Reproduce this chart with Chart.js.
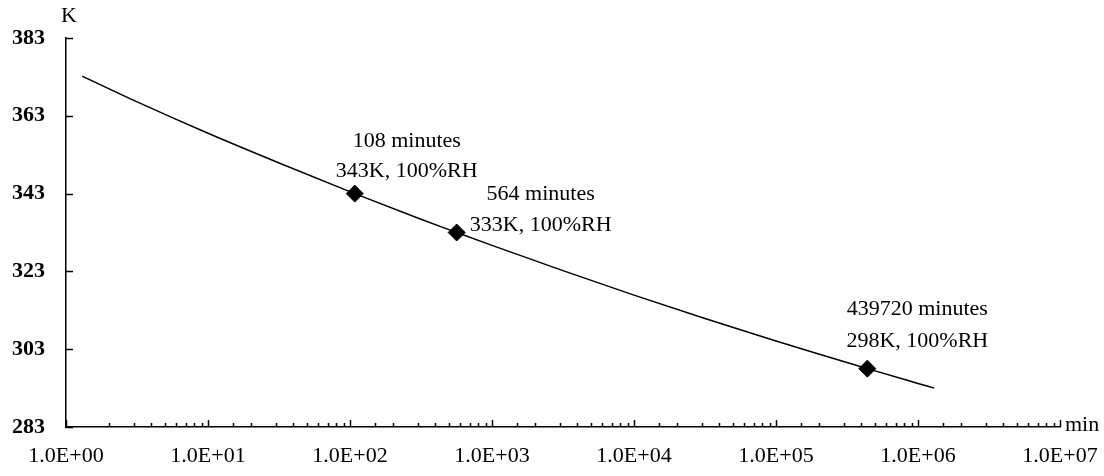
<!DOCTYPE html>
<html>
<head>
<meta charset="utf-8">
<script src="https://cdn.jsdelivr.net/npm/chart.js@4"></script>
<style>
  html, body { margin: 0; padding: 0; background: #fff; }
  #wrap { width: 1104px; height: 476px; }
</style>
</head>
<body>
<div id="wrap"><canvas id="chart"></canvas></div>
<script>
// curve (minutes, kelvin)
const curveMinutes = [1.3, 3.2, 10, 32, 108, 316, 564, 1000, 3160, 10000, 31600, 100000, 316000, 439720, 1000000, 1300000];
const curveKelvin = [373.2, 366.5, 358.5, 350.8, 343, 336.4, 333, 329.7, 323.2, 316.9, 310.9, 305.1, 299.6, 298, 294.2, 293];

// marked test conditions
const testMinutes = [108, 564, 439720];
const testKelvin = [343, 333, 298];
const testLabels = [
  ['108 minutes', '343K, 100%RH'],
  ['564 minutes', '333K, 100%RH'],
  ['439720 minutes', '298K, 100%RH']
];

const yTicks = [283, 303, 323, 343, 363, 383];
const xTitle = 'min';
const yTitle = 'K';

const font = 'Liberation Serif, Times New Roman, serif';

// text offsets from each marker: [dx, dy line1, dy line2]
const labelOffsets = [[52, -52, -22], [84, -38, -7], [50, -59, -27]];

const extras = {
  id: 'extras',
  afterDraw(chart) {
    const ctx = chart.ctx;
    const x = chart.scales.x, y = chart.scales.y;
    const area = chart.chartArea;
    ctx.save();
    ctx.strokeStyle = '#000';
    ctx.lineWidth = 1.5;
    ctx.beginPath();
    // inward y ticks
    yTicks.forEach(v => {
      const py = Math.round(y.getPixelForValue(v)) + 0.5;
      ctx.moveTo(area.left, py);
      ctx.lineTo(area.left + 7, py);
    });
    // inward x ticks, long at decades
    x.ticks.forEach(t => {
      const lg = Math.log10(t.value);
      const major = Math.abs(lg - Math.round(lg)) < 1e-9;
      const px = Math.round(x.getPixelForValue(t.value)) + 0.5;
      ctx.moveTo(px, area.bottom);
      ctx.lineTo(px, area.bottom - (major ? 7 : 4));
    });
    ctx.stroke();

    ctx.fillStyle = '#000';
    ctx.font = '22px ' + font;
    ctx.textAlign = 'left';
    ctx.textBaseline = 'middle';
    ctx.fillText(yTitle, area.left - 5, 16);
    ctx.fillText(xTitle, area.right + 5, area.bottom - 2);

    ctx.textAlign = 'center';
    testMinutes.forEach((m, i) => {
      const px = x.getPixelForValue(m);
      const py = y.getPixelForValue(testKelvin[i]);
      const o = labelOffsets[i];
      ctx.fillText(testLabels[i][0], px + o[0], py + o[1]);
      ctx.fillText(testLabels[i][1], px + o[0], py + o[2]);
    });
    ctx.restore();
  }
};

new Chart(document.getElementById('chart'), {
  type: 'line',
  data: {
    datasets: [
      {
        data: curveMinutes.map((m, i) => ({ x: m, y: curveKelvin[i] })),
        borderColor: '#000',
        borderWidth: 1.5,
        pointRadius: 0,
        cubicInterpolationMode: 'monotone'
      },
      {
        data: testMinutes.map((m, i) => ({ x: m, y: testKelvin[i] })),
        showLine: false,
        pointStyle: 'rectRot',
        pointRadius: 8.5,
        pointBackgroundColor: '#000',
        pointBorderColor: '#000'
      }
    ]
  },
  plugins: [extras],
  options: {
    responsive: true,
    maintainAspectRatio: false,
    animation: false,
    layout: { padding: { top: 38, right: 44, left: 0, bottom: 0 } },
    plugins: { legend: { display: false }, tooltip: { enabled: false } },
    scales: {
      x: {
        type: 'logarithmic',
        min: 1,
        max: 1e7,
        grid: { display: false, drawTicks: false },
        border: { display: true, color: '#000', width: 1.5 },
        afterFit: s => { s.height = 49; s.paddingLeft = 0; s.paddingRight = 0; },
        ticks: {
          autoSkip: false,
          maxRotation: 0,
          padding: 16,
          color: '#000',
          font: { family: font, size: 22 },
          callback: v => {
            const lg = Math.log10(v);
            if (Math.abs(lg - Math.round(lg)) > 1e-9) return '';
            return '1.0E+' + String(Math.round(lg)).padStart(2, '0');
          }
        }
      },
      y: {
        min: 283,
        max: 383,
        grid: { display: false, drawTicks: false },
        border: { display: true, color: '#000', width: 1.5 },
        afterFit: s => { s.width = 66; },
        afterBuildTicks: s => { s.ticks = yTicks.map(v => ({ value: v })); },
        ticks: {
          padding: 21,
          color: '#000',
          font: { family: font, size: 22, weight: 'bold' }
        }
      }
    }
  }
});
</script>
</body>
</html>
